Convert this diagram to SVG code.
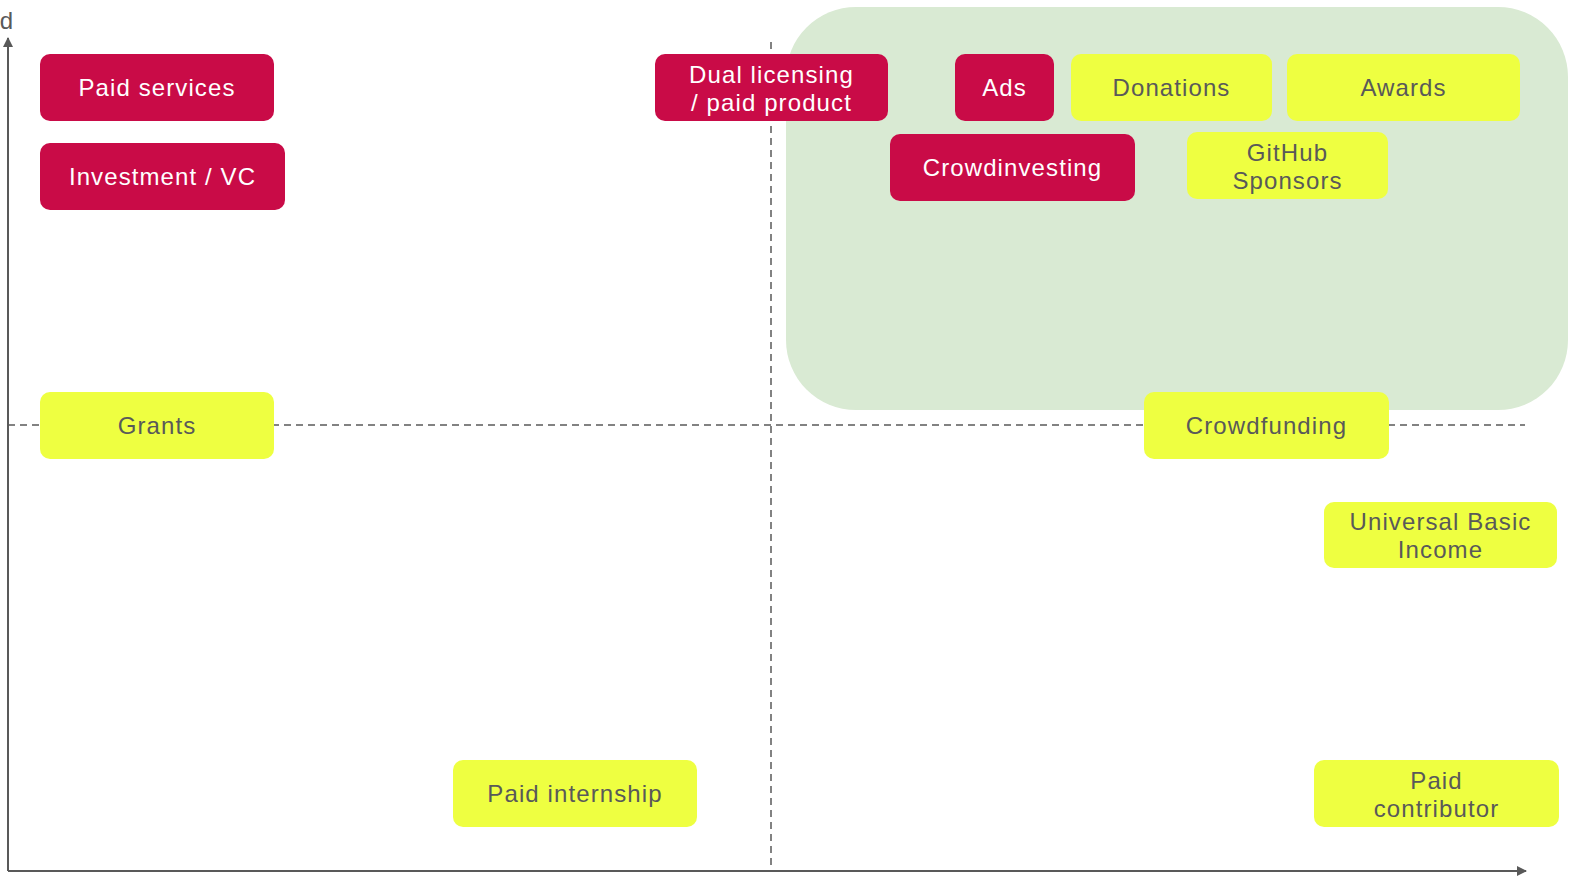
<svg xmlns="http://www.w3.org/2000/svg" width="1575" height="881" viewBox="0 0 1575 881">
<style>
.red rect{fill:#C90B47}
.yel rect{fill:#EEFF41}
.red text{fill:#FFFFFF}
.yel text{fill:#595959}
text{font-family:"Liberation Sans","Noto Sans",sans-serif;font-size:24px;letter-spacing:1.1px;text-anchor:middle;dominant-baseline:central}
.axis{stroke:#595959;stroke-width:2;fill:none}
.dash{stroke:#595959;stroke-width:1.5;stroke-dasharray:7,5;fill:none}
</style>
<defs>
<marker id="arr2" viewBox="0 0 10 10" refX="9" refY="5" markerWidth="12" markerHeight="10" orient="auto" markerUnits="userSpaceOnUse">
<path d="M0,0 L10,5 L0,10 z" fill="#595959"/>
</marker>
</defs>
<rect width="1575" height="881" fill="#FFFFFF"/>
<g id="zone">
<rect x="786" y="7" width="782" height="403" rx="70" fill="#D9EAD3"/>
</g>
<g id="connectors">
<line class="dash" x1="8" y1="425" x2="1525" y2="425"/>
<line class="dash" x1="771" y1="42" x2="771" y2="870"/>
<line class="axis" x1="8" y1="871" x2="1526" y2="871" marker-end="url(#arr2)"/>
<line class="axis" x1="8" y1="871" x2="8" y2="38" marker-end="url(#arr2)"/>
</g>
<text x="7" y="20" style="fill:#595959;font-size:24px">d</text>
<g id="paid-services" class="red"><rect x="40" y="54" width="234" height="67" rx="10"/><text x="157" y="87.5">Paid services</text></g>
<g id="investment-vc" class="red"><rect x="40" y="143" width="245" height="67" rx="10"/><text x="162.5" y="176.5">Investment / VC</text></g>
<g id="dual-licensing" class="red"><rect x="655" y="54" width="233" height="67" rx="10"/><text x="771.5" y="74"><tspan x="771.5" y="74">Dual licensing</tspan><tspan x="771.5" y="102">/ paid product</tspan></text></g>
<g id="ads" class="red"><rect x="955" y="54" width="99" height="67" rx="10"/><text x="1004.5" y="87.5">Ads</text></g>
<g id="donations" class="yel"><rect x="1071" y="54" width="201" height="67" rx="10"/><text x="1171.5" y="87.5">Donations</text></g>
<g id="awards" class="yel"><rect x="1287" y="54" width="233" height="67" rx="10"/><text x="1403.5" y="87.5">Awards</text></g>
<g id="crowdinvesting" class="red"><rect x="890" y="134" width="245" height="67" rx="10"/><text x="1012.5" y="167.5">Crowdinvesting</text></g>
<g id="github-sponsors" class="yel"><rect x="1187" y="132" width="201" height="67" rx="10"/><text x="1287.5" y="151.5"><tspan x="1287.5" y="151.5">GitHub</tspan><tspan x="1287.5" y="179.5">Sponsors</tspan></text></g>
<g id="grants" class="yel"><rect x="40" y="392" width="234" height="67" rx="10"/><text x="157" y="425.5">Grants</text></g>
<g id="crowdfunding" class="yel"><rect x="1144" y="392" width="245" height="67" rx="10"/><text x="1266.5" y="425.5">Crowdfunding</text></g>
<g id="ubi" class="yel"><rect x="1324" y="502" width="233" height="66" rx="10"/><text x="1440.5" y="521"><tspan x="1440.5" y="521">Universal Basic</tspan><tspan x="1440.5" y="549">Income</tspan></text></g>
<g id="paid-internship" class="yel"><rect x="453" y="760" width="244" height="67" rx="10"/><text x="575" y="793.5">Paid internship</text></g>
<g id="paid-contributor" class="yel"><rect x="1314" y="760" width="245" height="67" rx="10"/><text x="1436.5" y="779.5"><tspan x="1436.5" y="779.5">Paid</tspan><tspan x="1436.5" y="807.5">contributor</tspan></text></g>
</svg>
